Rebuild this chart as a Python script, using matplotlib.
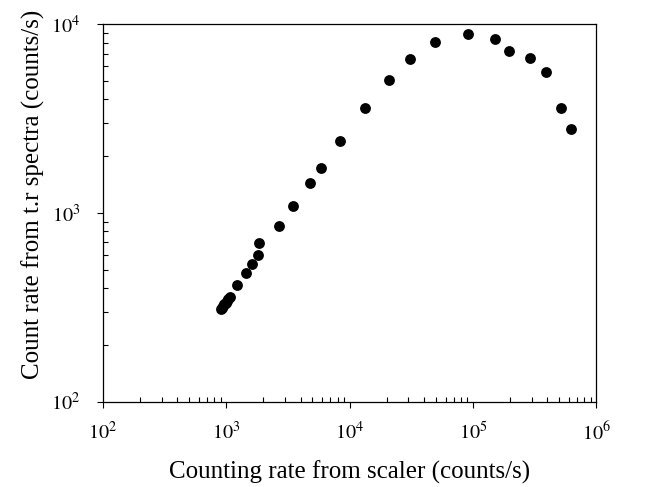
import math

import matplotlib
matplotlib.use("Agg")
import matplotlib.pyplot as plt
from matplotlib.ticker import LogLocator, FuncFormatter, NullFormatter

# valeurs (échelle log-log)
scaler_rate = [900, 920, 945, 965, 990, 1015, 1040, 1080,
               1225, 1449, 1629, 1823, 1847, 2662, 3457, 4748, 5832,
               8313, 13260, 20900, 30720, 49340, 91860, 150100, 196400,
               288500, 388900, 518300, 628300]
spectra_rate = [309, 315, 322, 328, 335, 342, 349, 360,
                415, 483, 539, 599, 691, 853, 1093, 1447, 1738,
                2416, 3588, 5085, 6572, 8057, 8884, 8357, 7219,
                6605, 5588, 3601, 2797]

plt.rcParams["font.family"] = ["Liberation Serif", "DejaVu Serif"]
plt.rcParams["mathtext.fontset"] = "stix"

fig = plt.figure(figsize=(6.48, 4.87), dpi=100)
ax = fig.add_axes([0.159, 0.175, 0.761, 0.775])

ax.plot(scaler_rate, spectra_rate, "o", color="black", markersize=7.8,
        markeredgewidth=0)

ax.set_xscale("log")
ax.set_yscale("log")
ax.set_xlim(1e2, 1e6)
ax.set_ylim(1e2, 1e4)

fmt = FuncFormatter(lambda v, _: r"$10^{%d}$" % round(math.log10(v)))
for axis in (ax.xaxis, ax.yaxis):
    axis.set_major_locator(LogLocator(base=10, numticks=10))
    axis.set_minor_locator(LogLocator(base=10, subs=range(2, 10), numticks=10))
    axis.set_major_formatter(fmt)
    axis.set_minor_formatter(NullFormatter())

ax.tick_params(which="major", direction="out", length=4.5, width=0.8,
               labelsize=14.5)
ax.tick_params(which="minor", direction="in", length=3.5, width=0.8)
ax.tick_params(axis="x", which="major", pad=10)
ax.tick_params(axis="y", which="major", pad=12)
for s in ax.spines.values():
    s.set_linewidth(0.9)

ax.set_xlabel("Counting rate from scaler (counts/s)", fontsize=18, labelpad=11)
ax.set_ylabel("Count rate from t.r spectra (counts/s)", fontsize=18)
# le titre vertical est un peu décalé vers le haut dans l'original
ax.yaxis.set_label_coords(-0.117, 0.55)

fig.savefig("out.png", dpi=100)
